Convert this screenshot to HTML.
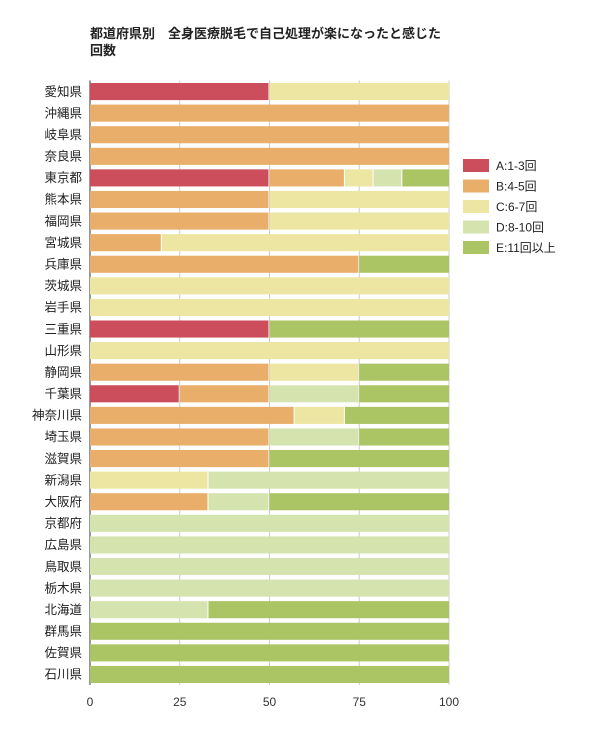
<!DOCTYPE html>
<html><head><meta charset="utf-8"><style>
body{margin:0;background:#fff;font-family:"Liberation Sans","Noto Sans CJK JP",sans-serif}
</style></head><body>
<svg id="chart" width="600" height="746" xmlns="http://www.w3.org/2000/svg" style="font-family:'Liberation Sans','Noto Sans CJK JP',sans-serif">
<text x="90" y="38" font-size="13" font-weight="bold" fill="#222">都道府県別　全身医療脱毛で自己処理が楽になったと感じた</text>
<text x="90" y="55" font-size="13" font-weight="bold" fill="#222">回数</text>
<g id="grid"></g><g id="bars"></g><g id="ylabels"></g><g id="xlabels"></g><g id="legend"></g>
</svg>
<script>
const categories=["愛知県","沖縄県","岐阜県","奈良県","東京都","熊本県","福岡県","宮城県","兵庫県","茨城県","岩手県","三重県","山形県","静岡県","千葉県","神奈川県","埼玉県","滋賀県","新潟県","大阪府","京都府","広島県","鳥取県","栃木県","北海道","群馬県","佐賀県","石川県"];
const seriesA=[50,0,0,0,50,0,0,0,0,0,0,50,0,0,25,0,0,0,0,0,0,0,0,0,0,0,0,0];
const seriesB=[0,100,100,100,21,50,50,20,75,0,0,0,0,50,25,57,50,50,0,33,0,0,0,0,0,0,0,0];
const seriesC=[50,0,0,0,8,50,50,80,0,100,100,0,100,25,0,14,0,0,33,0,0,0,0,0,0,0,0,0];
const seriesD=[0,0,0,0,8,0,0,0,0,0,0,0,0,0,25,0,25,0,67,17,100,100,100,100,33,0,0,0];
const seriesE=[0,0,0,0,13,0,0,0,25,0,0,50,0,25,25,29,25,50,0,50,0,0,0,0,67,100,100,100];
const seriesNames=["A:1-3回","B:4-5回","C:6-7回","D:8-10回","E:11回以上"];
const xTicks=[0,25,50,75,100];
const colors=["#cc4e5c","#e8ae6a","#ece6a2","#d5e3af","#abc464"];
const NS="http://www.w3.org/2000/svg";
const X0=90,X1=449,Y0=80.5,Y1=685;
const band=(Y1-Y0)/categories.length;
const xs=v=>X0+(X1-X0)*v/100;
const yb=i=>Y0+band*i;
function mk(t,a,p){const e=document.createElementNS(NS,t);for(const k in a)e.setAttribute(k,a[k]);p.appendChild(e);return e;}
const grid=document.getElementById('grid');
xTicks.forEach(t=>{const l=mk('line',{x1:xs(t),x2:xs(t),y1:Y0,y2:Y1,stroke:t===0?'#333':'#ccc','stroke-width':1},grid);


const tx=mk('text',{x:xs(t),y:706,'font-size':12,'text-anchor':'middle',fill:'#333'},document.getElementById('xlabels'));
tx.textContent=t;

});
const all=[seriesA,seriesB,seriesC,seriesD,seriesE];
const bars=document.getElementById('bars');
categories.forEach((c,i)=>{let acc=0;
all.forEach((s,k)=>{const v=s[i];if(v>0){const r=mk('rect',{x:xs(acc),y:yb(i)+2.5,width:xs(acc+v)-xs(acc)-(acc+v<100?1:0),height:band-4.5,fill:colors[k]},bars);

}acc+=v;});
const t=mk('text',{x:82,y:yb(i)+band/2+4.5,'font-size':12.5,'text-anchor':'end',fill:'#222'},document.getElementById('ylabels'));
t.textContent=c;

});
const lg=document.getElementById('legend');
seriesNames.forEach((n,k)=>{const y=159+k*20.5;
const r=mk('rect',{x:463,y:y,width:26,height:13,fill:colors[k]},lg);


const t=mk('text',{x:496,y:y+11,'font-size':12,fill:'#222'},lg);t.textContent=n;

});
</script>
</body></html>
